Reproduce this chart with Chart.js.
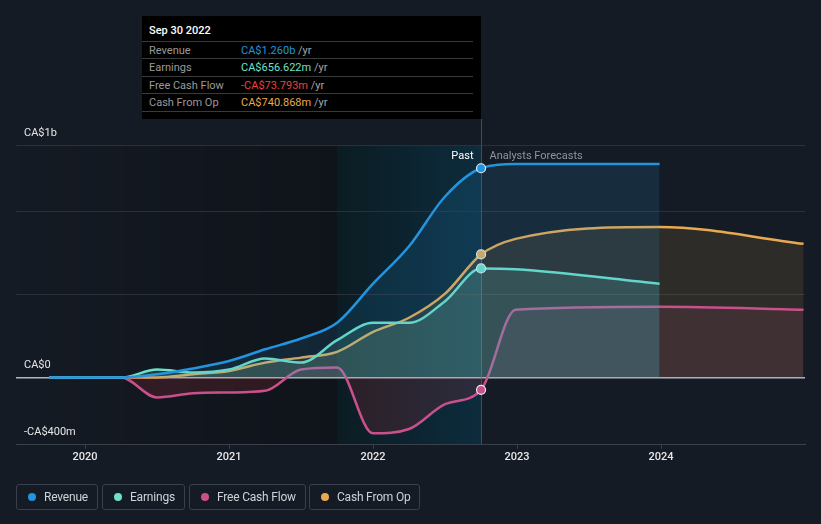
<!DOCTYPE html>
<html><head><meta charset="utf-8">
<script src="https://cdn.jsdelivr.net/npm/chart.js@4.4.1/dist/chart.umd.min.js"></script>
<style>
html,body{margin:0;padding:0;background:#151b24;}
#wrap{position:relative;width:821px;height:524px;overflow:hidden;font-family:Roboto,"Noto Sans",sans-serif;background:#151b24;}
#c{position:absolute;left:0;top:0;}
.tip{position:absolute;left:142px;top:16px;width:339px;height:103px;background:#000;}
.tt{position:absolute;left:7px;top:8px;font-size:11px;line-height:14px;color:#fff;font-weight:500;}
.row{position:absolute;left:0;width:331px;height:17px;border-top:1px solid #3a3a3a;font-size:11px;line-height:17px;}
.row .l{position:absolute;left:7px;color:#9a9a9a;}
.row .v{position:absolute;left:99px;color:#a6a6a6;white-space:nowrap;}
.endline{position:absolute;left:0;width:331px;top:95px;border-top:1px solid #3a3a3a;}
.lg{position:absolute;top:484px;height:24px;border:1px solid #3a404b;border-radius:3px;font-size:12px;line-height:24px;color:#cfd2d7;white-space:nowrap;}
.lg .d{position:absolute;left:11px;top:8px;width:8px;height:8px;border-radius:50%;}
.lg .tx{position:absolute;left:27px;top:0;letter-spacing:-0.2px;}
</style>
</head><body>
<div id="wrap">
<canvas id="c" width="821" height="524"></canvas>
<div class="tip">
  <div class="tt">Sep 30 2022</div>
  <div class="row" style="top:25px"><span class="l">Revenue</span><span class="v"><span style="color:#2394df">CA$1.260b</span> /yr</span></div>
  <div class="row" style="top:42px"><span class="l">Earnings</span><span class="v"><span style="color:#6fe0c8">CA$656.622m</span> /yr</span></div>
  <div class="row" style="top:60px"><span class="l">Free Cash Flow</span><span class="v"><span style="color:#e8433f">-CA$73.793m</span> /yr</span></div>
  <div class="row" style="top:77px"><span class="l">Cash From Op</span><span class="v"><span style="color:#e8a950">CA$740.868m</span> /yr</span></div>
  <div class="endline"></div>
</div>
<div class="lg" style="left:16px;width:80px"><span class="d" style="background:#2394df"></span><span class="tx">Revenue</span></div>
<div class="lg" style="left:102px;width:81px"><span class="d" style="background:#6fe0c8"></span><span class="tx">Earnings</span></div>
<div class="lg" style="left:189px;width:115px"><span class="d" style="background:#c9508b"></span><span class="tx">Free Cash Flow</span></div>
<div class="lg" style="left:309px;width:109px"><span class="d" style="background:#e8a950"></span><span class="tx">Cash From Op</span></div>
</div>
<script>
// ---- data (values in CA$ billions) ----
const pastYears      = [2019.75, 2020, 2020.25, 2020.5, 2020.75, 2021, 2021.25, 2021.5, 2021.75, 2022, 2022.25, 2022.5, 2022.75];
const revenuePast    = [0, 0, 0, 0.02, 0.055, 0.10, 0.17, 0.235, 0.33, 0.565, 0.79, 1.09, 1.26];
const earningsPast   = [0, 0, 0, 0.048, 0.03, 0.048, 0.114, 0.09, 0.225, 0.33, 0.33, 0.46, 0.657];
const fcfPast        = [0, 0, 0, -0.12, -0.095, -0.09, -0.08, 0.048, 0.06, -0.336, -0.31, -0.16, -0.074];
const cfoPast        = [0, 0, 0, 0, 0.02, 0.04, 0.09, 0.12, 0.155, 0.275, 0.36, 0.505, 0.741];
const forecastYears    = [2022.99, 2023.99, 2024.99];
const revenueForecast  = [1.285, 1.285, null];
const earningsForecast = [0.652, 0.565, null];
const fcfForecast      = [0.408, 0.426, 0.408];
const cfoForecast      = [0.835, 0.907, 0.805];
const xTickYears = [2020, 2021, 2022, 2023, 2024];
const yTickValues = [-0.4, 0, 0.5, 1.0, 1.4];
const yTickLabels = ['-CA$400m', 'CA$0', '', '', 'CA$1b'];
const pastEnd = 2022.75;
const highlightStart = 2021.75;

function series(past, fc) {
  const pts = pastYears.map((x, i) => ({x, y: past[i]}));
  forecastYears.forEach((x, i) => { if (fc[i] !== null) pts.push({x, y: fc[i]}); });
  return pts;
}
const markIdx = pastYears.indexOf(pastEnd);
function ds(label, past, fc, color, above, below) {
  return {
    label, data: series(past, fc), borderColor: color, borderWidth: 2.5,
    cubicInterpolationMode: 'monotone',
    fill: {target: 'origin', above, below},
    pointRadius: ctx => ctx.dataIndex === markIdx ? 4.5 : 0,
    pointBackgroundColor: color, pointBorderColor: '#e6eef2', pointBorderWidth: 1.2,
    pointHoverRadius: 0
  };
}

const bgPlugin = {
  id: 'bands',
  beforeDraw(chart) {
    const {ctx, chartArea: a, scales: {x}} = chart;
    const xs = x.getPixelForValue(highlightStart), xe = x.getPixelForValue(pastEnd);
    ctx.save();
    let g = ctx.createLinearGradient(a.left, 0, xs, 0);
    g.addColorStop(0, 'rgba(0,0,0,0)'); g.addColorStop(1, 'rgba(0,0,0,0.25)');
    ctx.fillStyle = g; ctx.fillRect(a.left, a.top, xs - a.left, a.bottom - a.top);
    g = ctx.createLinearGradient(xs, 0, xe, 0);
    g.addColorStop(0, '#0b1c23'); g.addColorStop(1, '#0d2c3d');
    ctx.fillStyle = g; ctx.fillRect(xs, a.top, xe - xs, a.bottom - a.top);
    ctx.restore();
  },
  beforeDatasetsDraw(chart) {
    const {ctx, chartArea: a, scales: {x}} = chart;
    const xe = Math.round(x.getPixelForValue(pastEnd)) + 0.5;
    ctx.save();
    ctx.strokeStyle = 'rgba(40,110,140,0.75)'; ctx.lineWidth = 1;
    ctx.beginPath(); ctx.moveTo(xe, 119); ctx.lineTo(xe, a.bottom); ctx.stroke();
    ctx.font = '11px Roboto'; ctx.textBaseline = 'middle';
    ctx.fillStyle = '#ffffff'; ctx.textAlign = 'right'; ctx.fillText('Past', xe - 8, a.top + 11);
    ctx.fillStyle = '#8d939b'; ctx.textAlign = 'left'; ctx.fillText('Analysts Forecasts', xe + 8, a.top + 11);
    ctx.restore();
  }
};

Chart.defaults.font.family = 'Roboto';
new Chart(document.getElementById('c'), {
  type: 'line',
  data: {datasets: [
    ds('Revenue', revenuePast, revenueForecast, '#2394df', 'rgba(35,148,223,0.14)', 'rgba(35,148,223,0.14)'),
    ds('Earnings', earningsPast, earningsForecast, '#6fe0c8', 'rgba(111,224,200,0.16)', 'rgba(111,224,200,0.16)'),
    ds('Free Cash Flow', fcfPast, fcfForecast, '#c9508b', 'rgba(201,80,139,0.11)', 'rgba(200,50,60,0.17)'),
    ds('Cash From Op', cfoPast, cfoForecast, '#e8a950', 'rgba(232,169,80,0.12)', 'rgba(232,169,80,0.12)')
  ]},
  options: {
    responsive: false, animation: false, devicePixelRatio: 1,
    layout: {padding: {left: 16, right: 16, top: 145, bottom: 0}},
    plugins: {legend: {display: false}, tooltip: {enabled: false}},
    scales: {
      x: {
        type: 'linear', min: 2019.52, max: 2025.0,
        afterBuildTicks: s => { s.ticks = xTickYears.map(v => ({value: v})); },
        afterFit: s => { s.height = 80; },
        grid: {drawOnChartArea: false, drawTicks: true, tickLength: 5, color: '#3b414a'},
        border: {color: '#3b414a'},
        ticks: {color: '#e6e6e6', font: {size: 11, weight: 500}, padding: 2, callback: v => String(v)}
      },
      y: {
        min: -0.4, max: 1.4,
        afterBuildTicks: s => { s.ticks = yTickValues.map(v => ({value: v})); },
        afterFit: s => { s.width = 0; },
        border: {display: false},
        grid: {
          drawTicks: false,
          color: c => c.tick.value === 0 ? '#b3b6bb' : (c.tick.value === -0.4 ? '#3b414a' : '#2a303a'),
          lineWidth: c => c.tick.value === 0 ? 1.5 : 1
        },
        ticks: {
          mirror: true, padding: 8, labelOffset: -12, color: '#e6e6e6', font: {size: 11},
          callback: (v) => { const i = yTickValues.indexOf(v); return i >= 0 ? yTickLabels[i] : ''; }
        }
      }
    }
  },
  plugins: [bgPlugin]
});
</script>
</body></html>
